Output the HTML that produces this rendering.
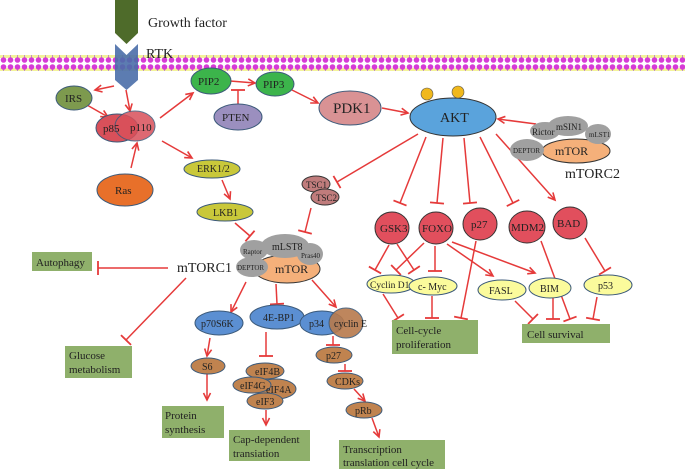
<!DOCTYPE html>
<html><head><meta charset="utf-8"><style>
html,body{margin:0;padding:0;background:#fff;}
svg{display:block;}
text{font-family:"Liberation Serif",serif;fill:#222;}
</style></head><body>
<svg width="685" height="469" viewBox="0 0 685 469" xmlns="http://www.w3.org/2000/svg">
<defs>
<marker id="a" markerWidth="10" markerHeight="10" refX="0" refY="0" viewBox="-8 -5 10 10" orient="auto" markerUnits="userSpaceOnUse"><path d="M-7,-3.5 L0,0 L-7,3.5" fill="none" stroke="#e53a3a" stroke-width="1.6"/></marker>
<marker id="t" markerWidth="16" markerHeight="16" refX="0" refY="0" viewBox="-2 -8 4 16" orient="auto" markerUnits="userSpaceOnUse"><path d="M0,-7 L0,7" stroke="#e53a3a" stroke-width="1.8"/></marker>
<pattern id="mem" x="0" y="0" width="7" height="16" patternUnits="userSpaceOnUse">
<rect x="0" y="4" width="7" height="6" fill="#f3f39a"/>
<line x1="3.5" y1="4" x2="3.5" y2="10" stroke="#a6c" stroke-width="0.7"/>
<circle cx="3.5" cy="3" r="2.8" fill="#d63ad6"/>
<circle cx="3.5" cy="12" r="2.8" fill="#d63ad6"/>
</pattern>
</defs>
<rect x="0" y="55" width="685" height="16" fill="url(#mem)"/>
<path d="M115,0 L138,0 L138,33 L126.5,44 L115,33 Z" fill="#4e6b2a"/>
<path d="M115,44 L126.5,55 L138,44 L138,80 L126.5,90 L115,80 Z" fill="#4a6ea8" opacity="0.9"/>
<text x="148" y="27" font-size="14">Growth factor</text>
<text x="146" y="58" font-size="14">RTK</text>

<g stroke="#e53a3a" stroke-width="1.5" fill="none">
<line x1="114" y1="86" x2="95" y2="90" marker-end="url(#a)"/>
<line x1="126" y1="90" x2="130" y2="111" marker-end="url(#a)"/>
<line x1="87" y1="105" x2="108" y2="117" marker-end="url(#a)"/>
<line x1="131" y1="168" x2="137" y2="143" marker-end="url(#a)"/>
<line x1="160" y1="118" x2="193" y2="93" marker-end="url(#a)"/>
<line x1="230" y1="81" x2="255" y2="83" marker-end="url(#a)"/>
<line x1="238" y1="104" x2="238" y2="90" marker-end="url(#t)"/>
<line x1="292" y1="90" x2="318" y2="103" marker-end="url(#a)"/>
<line x1="382" y1="108" x2="408" y2="113" marker-end="url(#a)"/>
<line x1="536" y1="124" x2="498" y2="119" marker-end="url(#a)"/>
<line x1="162" y1="141" x2="192" y2="158" marker-end="url(#a)"/>
<line x1="222" y1="180" x2="230" y2="199" marker-end="url(#a)"/>
<line x1="235" y1="223" x2="250" y2="236" marker-end="url(#t)"/>
<line x1="311" y1="208" x2="305" y2="232" marker-end="url(#t)"/>
<line x1="418" y1="134" x2="337" y2="182" marker-end="url(#t)"/>
<line x1="426" y1="137" x2="400" y2="203" marker-end="url(#t)"/>
<line x1="443" y1="138" x2="437" y2="203" marker-end="url(#t)"/>
<line x1="464" y1="138" x2="470" y2="203" marker-end="url(#t)"/>
<line x1="480" y1="137" x2="513" y2="203" marker-end="url(#t)"/>
<line x1="496" y1="134" x2="555" y2="200" marker-end="url(#a)"/>
<line x1="168" y1="268" x2="98" y2="268" marker-end="url(#t)"/>
<line x1="186" y1="278" x2="126" y2="340" marker-end="url(#t)"/>
<line x1="246" y1="282" x2="231" y2="312" marker-end="url(#a)"/>
<line x1="276" y1="284" x2="277" y2="304" marker-end="url(#t)"/>
<line x1="312" y1="280" x2="336" y2="307" marker-end="url(#a)"/>
<line x1="210" y1="338" x2="207" y2="356" marker-end="url(#a)"/>
<line x1="266" y1="332" x2="266" y2="356" marker-end="url(#t)"/>
<line x1="333" y1="336" x2="333" y2="345" marker-end="url(#t)"/>
<line x1="345" y1="364" x2="345" y2="371" marker-end="url(#t)"/>
<line x1="354" y1="389" x2="365" y2="401" marker-end="url(#a)"/>
<line x1="207" y1="374" x2="207" y2="400" marker-end="url(#a)"/>
<line x1="266" y1="410" x2="266" y2="425" marker-end="url(#a)"/>
<line x1="372" y1="418" x2="379" y2="437" marker-end="url(#a)"/>
<line x1="389" y1="245" x2="375" y2="270" marker-end="url(#t)"/>
<line x1="397" y1="244" x2="414" y2="270" marker-end="url(#t)"/>
<line x1="424" y1="243" x2="396" y2="270" marker-end="url(#t)"/>
<line x1="435" y1="246" x2="435" y2="271" marker-end="url(#t)"/>
<line x1="447" y1="244" x2="493" y2="276" marker-end="url(#a)"/>
<line x1="452" y1="242" x2="535" y2="273" marker-end="url(#a)"/>
<line x1="476" y1="241" x2="461" y2="318" marker-end="url(#t)"/>
<line x1="541" y1="241" x2="570" y2="319" marker-end="url(#t)"/>
<line x1="585" y1="238" x2="605" y2="271" marker-end="url(#t)"/>
<line x1="383" y1="294" x2="398" y2="318" marker-end="url(#t)"/>
<line x1="432" y1="296" x2="432" y2="318" marker-end="url(#t)"/>
<line x1="515" y1="301" x2="533" y2="319" marker-end="url(#t)"/>
<line x1="553" y1="298" x2="553" y2="319" marker-end="url(#t)"/>
<line x1="597" y1="297" x2="593" y2="319" marker-end="url(#t)"/>
</g>

<g stroke="#3c5a7a" stroke-width="1">
<ellipse cx="74" cy="98" rx="18" ry="12" fill="#7d9a4e"/>
<ellipse cx="117" cy="128" rx="21" ry="14" fill="#d9505a"/>
<ellipse cx="135" cy="126" rx="20" ry="15" fill="#d9505a" opacity="0.85"/>
<ellipse cx="125" cy="190" rx="28" ry="16" fill="#e8702a"/>
<ellipse cx="211" cy="81" rx="20" ry="13" fill="#3cb44b"/>
<ellipse cx="275" cy="84" rx="19" ry="12" fill="#3cb44b"/>
<ellipse cx="238" cy="117" rx="24" ry="13" fill="#9b8fbf"/>
<ellipse cx="350" cy="108" rx="31" ry="17" fill="#d99294"/>
<ellipse cx="453" cy="117" rx="43" ry="19" fill="#5aa3dc" stroke="#333"/>
<ellipse cx="212" cy="169" rx="28" ry="9" fill="#c9c83a"/>
<ellipse cx="225" cy="212" rx="28" ry="9" fill="#c9c83a"/>
<ellipse cx="316" cy="184" rx="14" ry="8" fill="#c07c7c" stroke="#333"/>
<ellipse cx="325" cy="197" rx="14" ry="8" fill="#c07c7c" stroke="#333"/>
</g>
<circle cx="427" cy="94" r="6" fill="#f0b81c" stroke="#555" stroke-width="0.6"/>
<circle cx="458" cy="92" r="6" fill="#f0b81c" stroke="#555" stroke-width="0.6"/>

<ellipse cx="576" cy="151" rx="34" ry="12" fill="#f5b07a" stroke="#333"/>
<g fill="#a0a0a0">
<ellipse cx="545" cy="131" rx="15" ry="9"/><ellipse cx="568" cy="126" rx="20" ry="10"/>
<ellipse cx="598" cy="134" rx="13" ry="10"/><ellipse cx="527" cy="150" rx="17" ry="11"/>
</g>
<ellipse cx="287" cy="269" rx="33" ry="14" fill="#f5b07a" stroke="#333"/>
<g fill="#a0a0a0">
<ellipse cx="254" cy="250" rx="14" ry="10"/><ellipse cx="285" cy="246" rx="24" ry="12"/>
<ellipse cx="310" cy="254" rx="13" ry="11"/><ellipse cx="252" cy="267" rx="16" ry="10"/>
</g>

<g stroke="#3c5a7a" stroke-width="1">
<ellipse cx="219" cy="323" rx="24" ry="12" fill="#5b8fd2"/>
<ellipse cx="277" cy="317" rx="27" ry="12" fill="#5b8fd2"/>
<ellipse cx="322" cy="323" rx="22" ry="12" fill="#5b8fd2"/>
<ellipse cx="346" cy="323" rx="17" ry="15" fill="#b87a4c" opacity="0.9"/>
<g fill="#c0834f">
<ellipse cx="208" cy="366" rx="17" ry="8"/>
<ellipse cx="265" cy="371" rx="19" ry="8"/>
<ellipse cx="276" cy="389" rx="20" ry="10"/>
<ellipse cx="252" cy="385" rx="19" ry="8"/>
<ellipse cx="265" cy="401" rx="18" ry="8"/>
<ellipse cx="334" cy="355" rx="18" ry="8"/>
<ellipse cx="345" cy="381" rx="18" ry="8"/>
<ellipse cx="364" cy="410" rx="18" ry="8"/>
</g>
<g fill="#e14f5d" stroke="#333">
<ellipse cx="392" cy="228" rx="17" ry="16"/><ellipse cx="436" cy="228" rx="17" ry="16"/>
<ellipse cx="480" cy="224" rx="17" ry="16"/><ellipse cx="527" cy="227" rx="18" ry="16"/>
<ellipse cx="570" cy="223" rx="17" ry="16"/>
</g>
<g fill="#fbfb9c">
<ellipse cx="391" cy="284" rx="24" ry="9"/><ellipse cx="433" cy="286" rx="24" ry="9"/>
<ellipse cx="502" cy="290" rx="24" ry="10"/><ellipse cx="550" cy="288" rx="21" ry="10"/>
<ellipse cx="608" cy="285" rx="24" ry="10"/>
</g>
</g>

<g fill="#8fb06b">
<rect x="32" y="252" width="60" height="19"/>
<rect x="65" y="346" width="67" height="32"/>
<rect x="162" y="406" width="62" height="32"/>
<rect x="229" y="430" width="81" height="31"/>
<rect x="339" y="440" width="106" height="29"/>
<rect x="392" y="320" width="86" height="34"/>
<rect x="522" y="324" width="88" height="19"/>
</g>

<g font-size="11">
<text x="65" y="102">IRS</text>
<text x="103" y="132">p85</text>
<text x="130" y="131">p110</text>
<text x="115" y="194">Ras</text>
<text x="198" y="85">PIP2</text>
<text x="263" y="88">PIP3</text>
<text x="222" y="121">PTEN</text>
<text x="333" y="113" font-size="15">PDK1</text>
<text x="440" y="122" font-size="14">AKT</text>
<text x="197" y="172" font-size="10">ERK1/2</text>
<text x="213" y="216" font-size="10">LKB1</text>
<text x="306" y="188" font-size="9">TSC1</text>
<text x="316" y="201" font-size="9">TSC2</text>
<text x="243" y="254" font-size="7">Raptor</text>
<text x="272" y="250" font-size="10">mLST8</text>
<text x="301" y="258" font-size="7">Pras40</text>
<text x="237" y="270" font-size="7">DEPTOR</text>
<text x="275" y="273" font-size="12">mTOR</text>
<text x="532" y="135" font-size="9">Rictor</text>
<text x="556" y="130" font-size="9">mSIN1</text>
<text x="589" y="137" font-size="7">mLST1</text>
<text x="513" y="153" font-size="7">DEPTOR</text>
<text x="555" y="155" font-size="12">mTOR</text>
<text x="565" y="178" font-size="14">mTORC2</text>
<text x="177" y="272" font-size="14">mTORC1</text>
<text x="36" y="266" font-size="11">Autophagy</text>
<text x="69" y="359" font-size="11">Glucose</text>
<text x="69" y="373" font-size="11">metabolism</text>
<text x="201" y="327" font-size="10">p70S6K</text>
<text x="263" y="321" font-size="10">4E-BP1</text>
<text x="309" y="327" font-size="10">p34</text>
<text x="334" y="327" font-size="10">cyclin E</text>
<text x="202" y="370" font-size="10">S6</text>
<text x="255" y="375" font-size="10">eIF4B</text>
<text x="240" y="389" font-size="10">eIF4G</text>
<text x="266" y="393" font-size="10">eIF4A</text>
<text x="256" y="405" font-size="10">eIF3</text>
<text x="326" y="359" font-size="10">p27</text>
<text x="335" y="385" font-size="10">CDKs</text>
<text x="355" y="414" font-size="10">pRb</text>
<text x="165" y="419" font-size="11">Protein</text>
<text x="165" y="433" font-size="11">synthesis</text>
<text x="233" y="443" font-size="11">Cap-dependent</text>
<text x="233" y="457" font-size="11">transiation</text>
<text x="343" y="453" font-size="11">Transcription</text>
<text x="343" y="466" font-size="11">translation cell cycle</text>
<text x="380" y="232">GSK3</text>
<text x="422" y="232">FOXO</text>
<text x="471" y="228">p27</text>
<text x="511" y="231">MDM2</text>
<text x="557" y="227">BAD</text>
<text x="370" y="288" font-size="9.5">Cyclin D1</text>
<text x="418" y="290" font-size="10">c- Myc</text>
<text x="489" y="294" font-size="10">FASL</text>
<text x="540" y="292" font-size="10">BIM</text>
<text x="598" y="289" font-size="10">p53</text>
<text x="396" y="334" font-size="11">Cell-cycle</text>
<text x="396" y="348" font-size="11">proliferation</text>
<text x="527" y="338" font-size="11">Cell survival</text>
</g>
</svg>
</body></html>
